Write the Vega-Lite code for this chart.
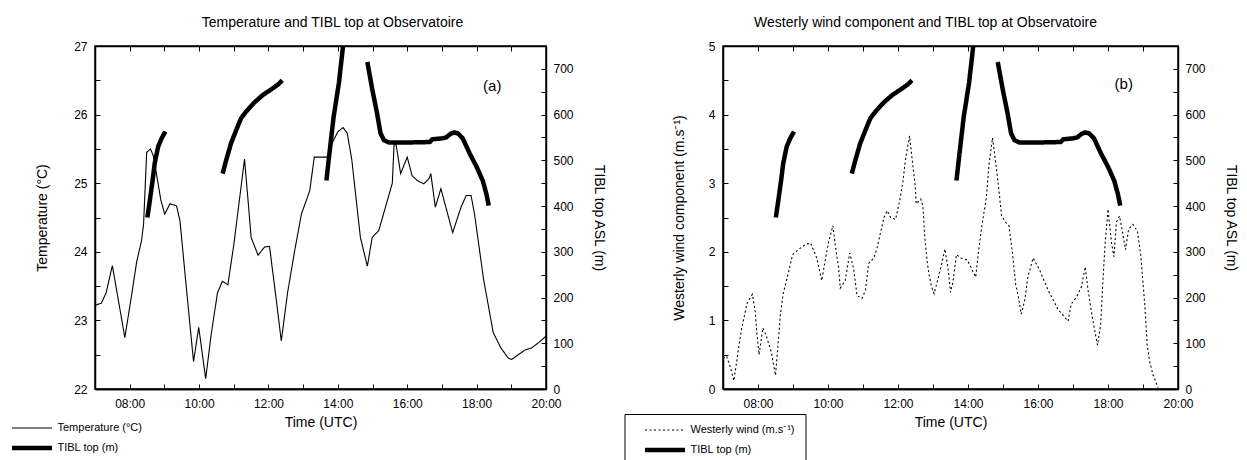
{
  "$schema": "https://vega.github.io/schema/vega-lite/v6.json",
  "padding": {"left": 8, "top": 15, "right": 5, "bottom": 0},
  "background": "white",
  "spacing": 177,
  "bounds": "flush",
  "config": {
    "font": "Liberation Sans",
    "view": {"stroke": "black", "strokeWidth": 1.5},
    "axis": {"domainColor": "black", "domainWidth": 1.5, "tickColor": "black", "tickWidth": 1, "tickSize": -5, "labelFont": "Liberation Sans", "labelFontSize": 12, "labelColor": "black", "titleFont": "Liberation Sans", "titleFontSize": 14, "titleFontWeight": "normal", "titleColor": "black", "grid": false, "labelFlush": false, "labelOverlap": false},
    "title": {"font": "Liberation Sans", "fontSize": 14, "fontWeight": "normal", "color": "black"},
    "legend": {"symbolType": "stroke", "symbolStrokeColor": "black", "labelFont": "Liberation Sans", "labelFontSize": 11, "labelColor": "black"}
  },
  "datasets": {
    "temp": [
      {"h": 7.00, "v": 23.22}, {"h": 7.18, "v": 23.25}, {"h": 7.32, "v": 23.40}, {"h": 7.50, "v": 23.80}, {"h": 7.86, "v": 22.75},
      {"h": 8.05, "v": 23.35}, {"h": 8.20, "v": 23.85}, {"h": 8.34, "v": 24.16}, {"h": 8.40, "v": 24.40}, {"h": 8.46, "v": 25.10},
      {"h": 8.49, "v": 25.45}, {"h": 8.60, "v": 25.50}, {"h": 8.68, "v": 25.40}, {"h": 8.75, "v": 25.20}, {"h": 8.90, "v": 24.75},
      {"h": 9.01, "v": 24.55}, {"h": 9.16, "v": 24.70}, {"h": 9.35, "v": 24.67}, {"h": 9.45, "v": 24.45}, {"h": 9.60, "v": 23.65},
      {"h": 9.84, "v": 22.40}, {"h": 9.99, "v": 22.90}, {"h": 10.19, "v": 22.15}, {"h": 10.35, "v": 22.80}, {"h": 10.53, "v": 23.40},
      {"h": 10.67, "v": 23.57}, {"h": 10.83, "v": 23.52}, {"h": 11.00, "v": 24.10}, {"h": 11.31, "v": 25.35}, {"h": 11.42, "v": 24.70},
      {"h": 11.50, "v": 24.21}, {"h": 11.70, "v": 23.95}, {"h": 11.89, "v": 24.07}, {"h": 12.03, "v": 24.08}, {"h": 12.20, "v": 23.40},
      {"h": 12.37, "v": 22.70}, {"h": 12.55, "v": 23.40}, {"h": 12.75, "v": 24.00}, {"h": 12.95, "v": 24.55}, {"h": 13.19, "v": 24.89},
      {"h": 13.32, "v": 25.38}, {"h": 13.69, "v": 25.38}, {"h": 13.85, "v": 25.60}, {"h": 14.00, "v": 25.75}, {"h": 14.15, "v": 25.81},
      {"h": 14.27, "v": 25.73}, {"h": 14.40, "v": 25.35}, {"h": 14.65, "v": 24.21}, {"h": 14.85, "v": 23.79}, {"h": 14.99, "v": 24.21},
      {"h": 15.18, "v": 24.31}, {"h": 15.40, "v": 24.70}, {"h": 15.57, "v": 25.00}, {"h": 15.62, "v": 25.56}, {"h": 15.68, "v": 25.56},
      {"h": 15.81, "v": 25.14}, {"h": 16.00, "v": 25.38}, {"h": 16.14, "v": 25.11}, {"h": 16.29, "v": 25.04}, {"h": 16.48, "v": 24.99},
      {"h": 16.63, "v": 25.07}, {"h": 16.68, "v": 25.14}, {"h": 16.81, "v": 24.65}, {"h": 16.97, "v": 24.92}, {"h": 17.31, "v": 24.28},
      {"h": 17.55, "v": 24.65}, {"h": 17.70, "v": 24.82}, {"h": 17.84, "v": 24.82}, {"h": 17.94, "v": 24.55}, {"h": 18.20, "v": 23.60},
      {"h": 18.48, "v": 22.82}, {"h": 18.70, "v": 22.60}, {"h": 18.91, "v": 22.45}, {"h": 19.01, "v": 22.43}, {"h": 19.20, "v": 22.50},
      {"h": 19.40, "v": 22.57}, {"h": 19.59, "v": 22.60}, {"h": 19.80, "v": 22.68}, {"h": 20.00, "v": 22.77}
    ],
    "tibl": [
      {"h": 8.51, "v": 375, "seg": 1}, {"h": 8.58, "v": 412, "seg": 1}, {"h": 8.66, "v": 456, "seg": 1}, {"h": 8.72, "v": 493, "seg": 1},
      {"h": 8.82, "v": 530, "seg": 1}, {"h": 8.92, "v": 548, "seg": 1}, {"h": 9.03, "v": 563, "seg": 1},
      {"h": 10.68, "v": 471, "seg": 2}, {"h": 10.78, "v": 500, "seg": 2}, {"h": 10.92, "v": 537, "seg": 2}, {"h": 11.07, "v": 566, "seg": 2},
      {"h": 11.21, "v": 592, "seg": 2}, {"h": 11.36, "v": 607, "seg": 2}, {"h": 11.60, "v": 627, "seg": 2}, {"h": 11.84, "v": 643, "seg": 2},
      {"h": 12.08, "v": 655, "seg": 2}, {"h": 12.28, "v": 666, "seg": 2}, {"h": 12.40, "v": 675, "seg": 2},
      {"h": 13.67, "v": 456, "seg": 3}, {"h": 13.79, "v": 537, "seg": 3}, {"h": 13.88, "v": 596, "seg": 3}, {"h": 14.03, "v": 669, "seg": 3},
      {"h": 14.15, "v": 750, "seg": 3},
      {"h": 14.85, "v": 715, "seg": 4}, {"h": 14.99, "v": 656, "seg": 4}, {"h": 15.13, "v": 603, "seg": 4}, {"h": 15.23, "v": 559, "seg": 4},
      {"h": 15.33, "v": 544, "seg": 4}, {"h": 15.47, "v": 539, "seg": 4}, {"h": 16.00, "v": 539, "seg": 4}, {"h": 16.65, "v": 540, "seg": 4},
      {"h": 16.72, "v": 546, "seg": 4}, {"h": 17.00, "v": 548, "seg": 4}, {"h": 17.12, "v": 550, "seg": 4}, {"h": 17.25, "v": 558, "seg": 4},
      {"h": 17.35, "v": 561, "seg": 4}, {"h": 17.46, "v": 559, "seg": 4}, {"h": 17.60, "v": 548, "seg": 4}, {"h": 17.80, "v": 515, "seg": 4},
      {"h": 18.00, "v": 486, "seg": 4}, {"h": 18.18, "v": 455, "seg": 4}, {"h": 18.28, "v": 427, "seg": 4}, {"h": 18.35, "v": 401, "seg": 4}
    ],
    "wind": [
      {"h": 7.00, "v": 0.45}, {"h": 7.10, "v": 0.48}, {"h": 7.22, "v": 0.30}, {"h": 7.31, "v": 0.12}, {"h": 7.40, "v": 0.43},
      {"h": 7.46, "v": 0.65}, {"h": 7.54, "v": 0.90}, {"h": 7.69, "v": 1.25}, {"h": 7.84, "v": 1.38}, {"h": 7.92, "v": 1.13},
      {"h": 7.97, "v": 0.80}, {"h": 8.03, "v": 0.50}, {"h": 8.14, "v": 0.89}, {"h": 8.24, "v": 0.77}, {"h": 8.38, "v": 0.54},
      {"h": 8.50, "v": 0.20}, {"h": 8.60, "v": 0.82}, {"h": 8.64, "v": 1.09}, {"h": 8.72, "v": 1.39}, {"h": 8.86, "v": 1.68},
      {"h": 8.99, "v": 1.96}, {"h": 9.15, "v": 2.03}, {"h": 9.34, "v": 2.10}, {"h": 9.50, "v": 2.13}, {"h": 9.68, "v": 1.91},
      {"h": 9.82, "v": 1.58}, {"h": 9.93, "v": 1.90}, {"h": 10.01, "v": 2.13}, {"h": 10.14, "v": 2.38}, {"h": 10.22, "v": 2.05},
      {"h": 10.30, "v": 1.78}, {"h": 10.35, "v": 1.47}, {"h": 10.49, "v": 1.58}, {"h": 10.62, "v": 1.98}, {"h": 10.73, "v": 1.76},
      {"h": 10.83, "v": 1.36}, {"h": 10.97, "v": 1.32}, {"h": 11.07, "v": 1.44}, {"h": 11.16, "v": 1.83}, {"h": 11.31, "v": 1.91},
      {"h": 11.40, "v": 2.05}, {"h": 11.50, "v": 2.28}, {"h": 11.60, "v": 2.50}, {"h": 11.69, "v": 2.60}, {"h": 11.79, "v": 2.50},
      {"h": 11.93, "v": 2.47}, {"h": 12.05, "v": 2.75}, {"h": 12.14, "v": 3.02}, {"h": 12.22, "v": 3.37}, {"h": 12.33, "v": 3.69},
      {"h": 12.41, "v": 3.32}, {"h": 12.49, "v": 2.97}, {"h": 12.52, "v": 2.70}, {"h": 12.65, "v": 2.77}, {"h": 12.71, "v": 2.67},
      {"h": 12.77, "v": 2.18}, {"h": 12.84, "v": 1.83}, {"h": 12.89, "v": 1.66}, {"h": 12.96, "v": 1.49}, {"h": 13.03, "v": 1.39},
      {"h": 13.12, "v": 1.56}, {"h": 13.25, "v": 1.83}, {"h": 13.34, "v": 2.04}, {"h": 13.44, "v": 1.73}, {"h": 13.50, "v": 1.41},
      {"h": 13.57, "v": 1.56}, {"h": 13.67, "v": 1.96}, {"h": 13.79, "v": 1.91}, {"h": 13.98, "v": 1.88}, {"h": 14.10, "v": 1.76},
      {"h": 14.22, "v": 1.63}, {"h": 14.31, "v": 2.05}, {"h": 14.41, "v": 2.43}, {"h": 14.52, "v": 2.77}, {"h": 14.60, "v": 3.27},
      {"h": 14.70, "v": 3.66}, {"h": 14.74, "v": 3.51}, {"h": 14.81, "v": 3.22}, {"h": 14.89, "v": 2.87}, {"h": 14.96, "v": 2.52},
      {"h": 15.08, "v": 2.43}, {"h": 15.17, "v": 2.38}, {"h": 15.27, "v": 1.98}, {"h": 15.36, "v": 1.53}, {"h": 15.44, "v": 1.34},
      {"h": 15.52, "v": 1.09}, {"h": 15.62, "v": 1.29}, {"h": 15.71, "v": 1.63}, {"h": 15.86, "v": 1.91}, {"h": 16.05, "v": 1.73},
      {"h": 16.29, "v": 1.44}, {"h": 16.57, "v": 1.16}, {"h": 16.86, "v": 0.99}, {"h": 16.95, "v": 1.24}, {"h": 17.10, "v": 1.34},
      {"h": 17.24, "v": 1.49}, {"h": 17.35, "v": 1.78}, {"h": 17.43, "v": 1.44}, {"h": 17.57, "v": 0.99}, {"h": 17.70, "v": 0.64},
      {"h": 17.79, "v": 0.94}, {"h": 17.86, "v": 1.63}, {"h": 17.92, "v": 2.13}, {"h": 18.00, "v": 2.62}, {"h": 18.10, "v": 2.13},
      {"h": 18.17, "v": 1.93}, {"h": 18.24, "v": 2.43}, {"h": 18.33, "v": 2.52}, {"h": 18.40, "v": 2.33}, {"h": 18.50, "v": 2.03},
      {"h": 18.59, "v": 2.33}, {"h": 18.71, "v": 2.40}, {"h": 18.84, "v": 2.30}, {"h": 18.93, "v": 1.98}, {"h": 19.05, "v": 1.24},
      {"h": 19.12, "v": 0.64}, {"h": 19.19, "v": 0.40}, {"h": 19.29, "v": 0.20}, {"h": 19.43, "v": 0.02}
    ]
  },
  "resolve": {"scale": {"strokeDash": "independent", "strokeWidth": "independent"}},
  "hconcat": [
    {
      "width": 451,
      "height": 343,
      "title": {"text": "Temperature and TIBL top at Observatoire", "dx": 12, "offset": -7, "baseline": "bottom"},
      "layer": [
        {
          "data": {"name": "temp"},
          "mark": {"type": "line", "color": "black", "strokeWidth": 1.1},
          "encoding": {
            "x": {"field": "h", "type": "quantitative", "scale": {"domain": [7, 20], "nice": false, "zero": false},
              "axis": {"orient": "bottom", "title": "Time (UTC)", "values": [8, 10, 12, 14, 16, 18, 20],
                "labelExpr": "format(datum.value, '02d') + ':00'", "labelOverlap": false,
                "labelPadding": 14, "titlePadding": 6}},
            "y": {"field": "v", "type": "quantitative", "scale": {"domain": [22, 27], "nice": false, "zero": false},
              "axis": {"orient": "left", "title": "Temperature (°C)", "values": [22,22.5,23,23.5,24,24.5,25,25.5,26,26.5,27], "labelOverlap": false,
                "labelExpr": "datum.value % 1 == 0 ? format(datum.value, 'd') : ''", "labelPadding": 13, "titlePadding": 24}},
            "strokeDash": {"datum": "Temperature (°C)", "type": "nominal",
              "scale": {"domain": ["Temperature (°C)", "TIBL top (m)"], "range": [[1, 0], [1, 0]]},
              "legend": {"title": null, "orient": "none", "legendX": -85.5, "legendY": 376, "padding": 0, "clipHeight": 12, "rowPadding": 8, "symbolSize": 1600, "labelOffset": 3}},
            "strokeWidth": {"datum": "Temperature (°C)", "type": "ordinal",
              "scale": {"domain": ["Temperature (°C)", "TIBL top (m)"], "range": [1.1, 4.5]},
              "legend": {"title": null, "orient": "none", "legendX": -85.5, "legendY": 376, "padding": 0, "clipHeight": 12, "rowPadding": 8, "symbolSize": 1600, "labelOffset": 3}}
          }
        },
        {
          "data": {"name": "tibl"},
          "mark": {"type": "line", "color": "black"},
          "encoding": {
            "x": {"field": "h", "type": "quantitative",
              "axis": {"orient": "bottom", "title": null, "labels": false, "values": [7, 9, 11, 13, 15, 17, 19]}},
            "y": {"field": "v", "type": "quantitative", "scale": {"domain": [0, 750], "nice": false},
              "axis": {"orient": "right", "title": "TIBL top ASL (m)", "values": [0,50,100,150,200,250,300,350,400,450,500,550,600,650,700,750], "labelOverlap": false,
                "labelExpr": "datum.value % 100 == 0 ? format(datum.value, 'd') : ''", "labelPadding": 12, "titlePadding": 18}},
            "detail": {"field": "seg", "type": "nominal"},
            "strokeDash": {"datum": "TIBL top (m)", "type": "nominal"},
            "strokeWidth": {"datum": "TIBL top (m)", "type": "ordinal"}
          }
        },
        {
          "data": {"values": [{"h": 18.45, "v": 26.42, "t": "(a)"}]},
          "mark": {"type": "text", "fontSize": 15, "color": "black", "font": "Liberation Sans"},
          "encoding": {
            "x": {"field": "h", "type": "quantitative",
              "axis": {"orient": "top", "title": null, "labels": false, "values": [7,8,9,10,11,12,13,14,15,16,17,18,19,20]}},
            "y": {"field": "v", "type": "quantitative", "scale": {"domain": [22, 27], "nice": false, "zero": false}, "axis": null},
            "text": {"field": "t"}
          }
        }
      ],
      "resolve": {"scale": {"y": "independent"}, "axis": {"x": "independent"}}
    },
    {
      "width": 455,
      "height": 343,
      "title": {"text": "Westerly wind component and TIBL top at Observatoire", "dx": -25, "offset": -7, "baseline": "bottom"},
      "layer": [
        {
          "data": {"name": "wind"},
          "mark": {"type": "line", "color": "black"},
          "encoding": {
            "x": {"field": "h", "type": "quantitative", "scale": {"domain": [7, 20], "nice": false, "zero": false},
              "axis": {"orient": "bottom", "title": "Time (UTC)", "values": [8, 10, 12, 14, 16, 18, 20],
                "labelExpr": "format(datum.value, '02d') + ':00'", "labelOverlap": false,
                "labelPadding": 14, "titlePadding": 6}},
            "y": {"field": "v", "type": "quantitative", "scale": {"domain": [0, 5], "nice": false},
              "axis": {"orient": "left", "title": "Westerly wind component (m.s⁻¹)", "values": [0,0.5,1,1.5,2,2.5,3,3.5,4,4.5,5], "labelOverlap": false,
                "labelExpr": "datum.value % 1 == 0 ? format(datum.value, 'd') : ''", "labelPadding": 13, "titlePadding": 22}},
            "strokeDash": {"datum": "Westerly wind (m.s⁻¹)", "type": "nominal",
              "scale": {"domain": ["Westerly wind (m.s⁻¹)", "TIBL top (m)"], "range": [[2, 2.5], [1, 0]]},
              "legend": {"title": null, "orient": "none", "legendX": -98.5, "legendY": 368, "padding": 10, "symbolOffset": 8, "clipHeight": 12, "rowPadding": 8, "symbolSize": 1600, "labelOffset": 3, "strokeColor": "black"}},
            "strokeWidth": {"datum": "Westerly wind (m.s⁻¹)", "type": "ordinal",
              "scale": {"domain": ["Westerly wind (m.s⁻¹)", "TIBL top (m)"], "range": [1.1, 4.5]},
              "legend": {"title": null, "orient": "none", "legendX": -98.5, "legendY": 368, "padding": 10, "symbolOffset": 8, "clipHeight": 12, "rowPadding": 8, "symbolSize": 1600, "labelOffset": 3, "strokeColor": "black"}}
          }
        },
        {
          "data": {"name": "tibl"},
          "mark": {"type": "line", "color": "black"},
          "encoding": {
            "x": {"field": "h", "type": "quantitative",
              "axis": {"orient": "bottom", "title": null, "labels": false, "values": [7, 9, 11, 13, 15, 17, 19]}},
            "y": {"field": "v", "type": "quantitative", "scale": {"domain": [0, 750], "nice": false},
              "axis": {"orient": "right", "title": "TIBL top ASL (m)", "values": [0,50,100,150,200,250,300,350,400,450,500,550,600,650,700,750], "labelOverlap": false,
                "labelExpr": "datum.value % 100 == 0 ? format(datum.value, 'd') : ''", "labelPadding": 12, "titlePadding": 18}},
            "detail": {"field": "seg", "type": "nominal"},
            "strokeDash": {"datum": "TIBL top (m)", "type": "nominal"},
            "strokeWidth": {"datum": "TIBL top (m)", "type": "ordinal"}
          }
        },
        {
          "data": {"values": [{"h": 18.45, "v": 4.45, "t": "(b)"}]},
          "mark": {"type": "text", "fontSize": 15, "color": "black", "font": "Liberation Sans"},
          "encoding": {
            "x": {"field": "h", "type": "quantitative",
              "axis": {"orient": "top", "title": null, "labels": false, "values": [7,8,9,10,11,12,13,14,15,16,17,18,19,20]}},
            "y": {"field": "v", "type": "quantitative", "scale": {"domain": [0, 5], "nice": false}, "axis": null},
            "text": {"field": "t"}
          }
        }
      ],
      "resolve": {"scale": {"y": "independent"}, "axis": {"x": "independent"}}
    }
  ]
}
